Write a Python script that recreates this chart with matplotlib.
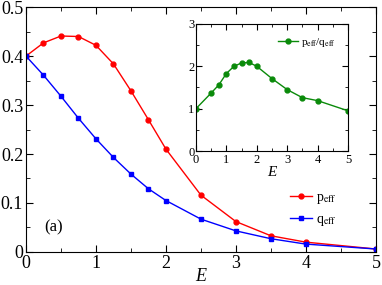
import matplotlib
matplotlib.use("Agg")
import matplotlib.pyplot as plt
from matplotlib.ticker import MultipleLocator

plt.rcParams['font.family'] = ['Liberation Serif', 'DejaVu Serif']
plt.rcParams['mathtext.fontset'] = 'stix'

E = [0, 0.25, 0.5, 0.75, 1.0, 1.25, 1.5, 1.75, 2.0, 2.5, 3.0, 3.5, 4.0, 5.0]
p_eff = [0.400, 0.427, 0.441, 0.440, 0.422, 0.384, 0.329, 0.270, 0.210, 0.116, 0.062, 0.033, 0.020, 0.006]
q_eff = [0.400, 0.361, 0.318, 0.273, 0.231, 0.193, 0.159, 0.129, 0.105, 0.067, 0.043, 0.027, 0.016, 0.006]

E_ratio = [0, 0.5, 0.75, 1.0, 1.25, 1.5, 1.75, 2.0, 2.5, 3.0, 3.5, 4.0, 5.0]
ratio = [1.00, 1.37, 1.56, 1.83, 2.00, 2.08, 2.09, 2.00, 1.71, 1.45, 1.26, 1.19, 0.95]

fig = plt.figure(figsize=(3.82, 2.85), dpi=100)
ax = fig.add_axes([0.068, 0.116, 0.916, 0.859])
ax.plot(E, p_eff, '-o', color='red', lw=1, ms=3.5, label=r'p$_{\rm eff}$')
ax.plot(E, q_eff, '-s', color='blue', lw=1, ms=3.2, label=r'q$_{\rm eff}$')
ax.set_xlim(0, 5)
ax.set_ylim(0, 0.5)
ax.xaxis.set_major_locator(MultipleLocator(1))
ax.xaxis.set_minor_locator(MultipleLocator(0.5))
ax.yaxis.set_major_locator(MultipleLocator(0.1))
ax.yaxis.set_minor_locator(MultipleLocator(0.05))
ax.set_xticks([0, 1, 2, 3, 4, 5])
ax.set_yticks([0, 0.1, 0.2, 0.3, 0.4, 0.5])
ax.set_yticklabels(['0', '0.1', '0.2', '0.3', '0.4', '0.5'])
ax.tick_params(which='both', direction='in', top=True, right=True, labelsize=13, pad=2)
ax.tick_params(which='major', length=5)
ax.tick_params(which='minor', length=3)
ax.set_xlabel('E', style='italic', fontsize=13, labelpad=-3)
ax.text(0.39, 0.05, '(a)', fontsize=12, ha='center', va='center')
ax.legend(loc='lower right', bbox_to_anchor=(0.915, 0.06), frameon=False, fontsize=10,
          handlelength=1.6, handletextpad=0.3, labelspacing=0.45, borderpad=0.2)

ins = fig.add_axes([0.513, 0.47, 0.398, 0.446])
ins.plot(E_ratio, ratio, '-o', color='#0a8a0a', lw=1, ms=3.5, label=r'p$_{\rm eff}$/q$_{\rm eff}$')
ins.set_xlim(0, 5)
ins.set_ylim(0, 3)
ins.xaxis.set_major_locator(MultipleLocator(1))
ins.xaxis.set_minor_locator(MultipleLocator(0.5))
ins.yaxis.set_major_locator(MultipleLocator(1))
ins.yaxis.set_minor_locator(MultipleLocator(0.5))
ins.tick_params(which='both', direction='in', top=True, right=True, labelsize=9, pad=1)
ins.tick_params(axis='x', pad=2)
ins.tick_params(which='major', length=4)
ins.tick_params(which='minor', length=2.5)
ins.set_xlabel('E', style='italic', fontsize=11, labelpad=0)
ins.legend(loc='upper right', frameon=False, fontsize=8, handlelength=1.8,
           handletextpad=0.3, borderpad=0.6)

fig.savefig('out.png', dpi=100)
